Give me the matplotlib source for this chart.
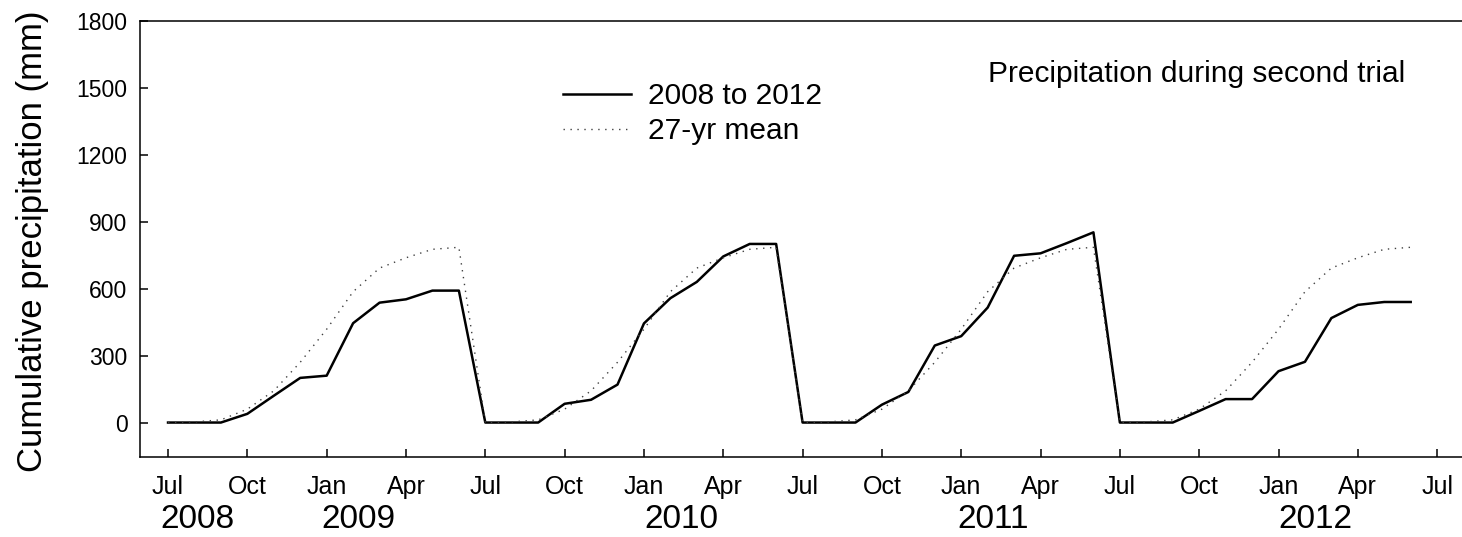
import numpy as np
import matplotlib.pyplot as plt

plt.rcParams['font.family'] = ['Liberation Sans', 'DejaVu Sans']

# cumulative monthly precipitation (mm), July..June, one row per season
seasons = ["2008-09", "2009-10", "2010-11", "2011-12"]
observed = [
    [0, 0, 0, 39, 120, 200, 210, 445, 537, 552, 591, 591],
    [0, 0, 0, 84, 102, 170, 444, 557, 630, 744, 800, 800],
    [0, 0, 0, 80, 137, 345, 387, 515, 747, 758, 804, 852],
    [0, 0, 0, 52, 105, 105, 230, 272, 468, 527, 540, 540],
]
# 27-year mean, same July..June shape
long_term_mean = [0, 3, 12, 60, 142, 270, 418, 586, 692, 738, 776, 785]

tick_names = ["Jul", "Oct", "Jan", "Apr"]
years = ["2008", "2009", "2010", "2011", "2012"]
year_pos = [1.1, 7.2, 19.4, 31.2, 43.4]  # months after Jul 2008

W, H = 1462, 537
fig = plt.figure(figsize=(W / 100, H / 100), dpi=100)
left, bottom, top = 140, 456.7, 20.7
ax = fig.add_axes([left / W, 1 - bottom / H, 1 - left / W, (bottom - top) / H])

months = np.arange(len(seasons) * 12)
y_obs = np.concatenate(observed)
y_mean = np.tile(long_term_mean, len(seasons))

ax.plot(months, y_obs, color="black", lw=1.8, label="2008 to 2012")
ax.plot(months, y_mean, color="0.25", lw=1.0, linestyle=(0, (1, 4)),
        label="27-yr mean")

ax.set_xlim(-1.06, 48.94)
ax.set_ylim(-153, 1800)
ax.set_yticks(np.arange(0, 1801, 300))
xt = np.arange(0, 49, 3)
ax.set_xticks(xt)
ax.set_xticklabels([tick_names[i % 4] for i in range(len(xt))])

for s in ["left", "bottom", "top"]:
    ax.spines[s].set_linewidth(1.1)
ax.spines["right"].set_visible(False)
ax.tick_params(axis="both", direction="in", length=6, width=1.1)
ax.tick_params(axis="x", labelsize=18, pad=13)
ax.tick_params(axis="y", labelsize=16.5, pad=9)

for yr, pos in zip(years, year_pos):
    ax.text(pos, -0.145, yr, transform=ax.get_xaxis_transform(),
            ha="center", va="center", fontsize=24)

fig.text(33 / W, 1 - 241 / H, "Cumulative precipitation (mm)",
         rotation=90, ha="center", va="center", fontsize=25)

ax.text((988 - left) / (W - left), (bottom - 81.7) / (bottom - top),
        "Precipitation during second trial", transform=ax.transAxes,
        ha="left", va="baseline", fontsize=21.5)

ax.legend(loc="upper left", bbox_to_anchor=(562.7 / W, 1 - 82 / H),
          bbox_transform=fig.transFigure, frameon=False, fontsize=21.5,
          handlelength=2.3, handletextpad=0.55, borderpad=0,
          borderaxespad=0, labelspacing=0.25)

fig.savefig("out.png", dpi=100)
